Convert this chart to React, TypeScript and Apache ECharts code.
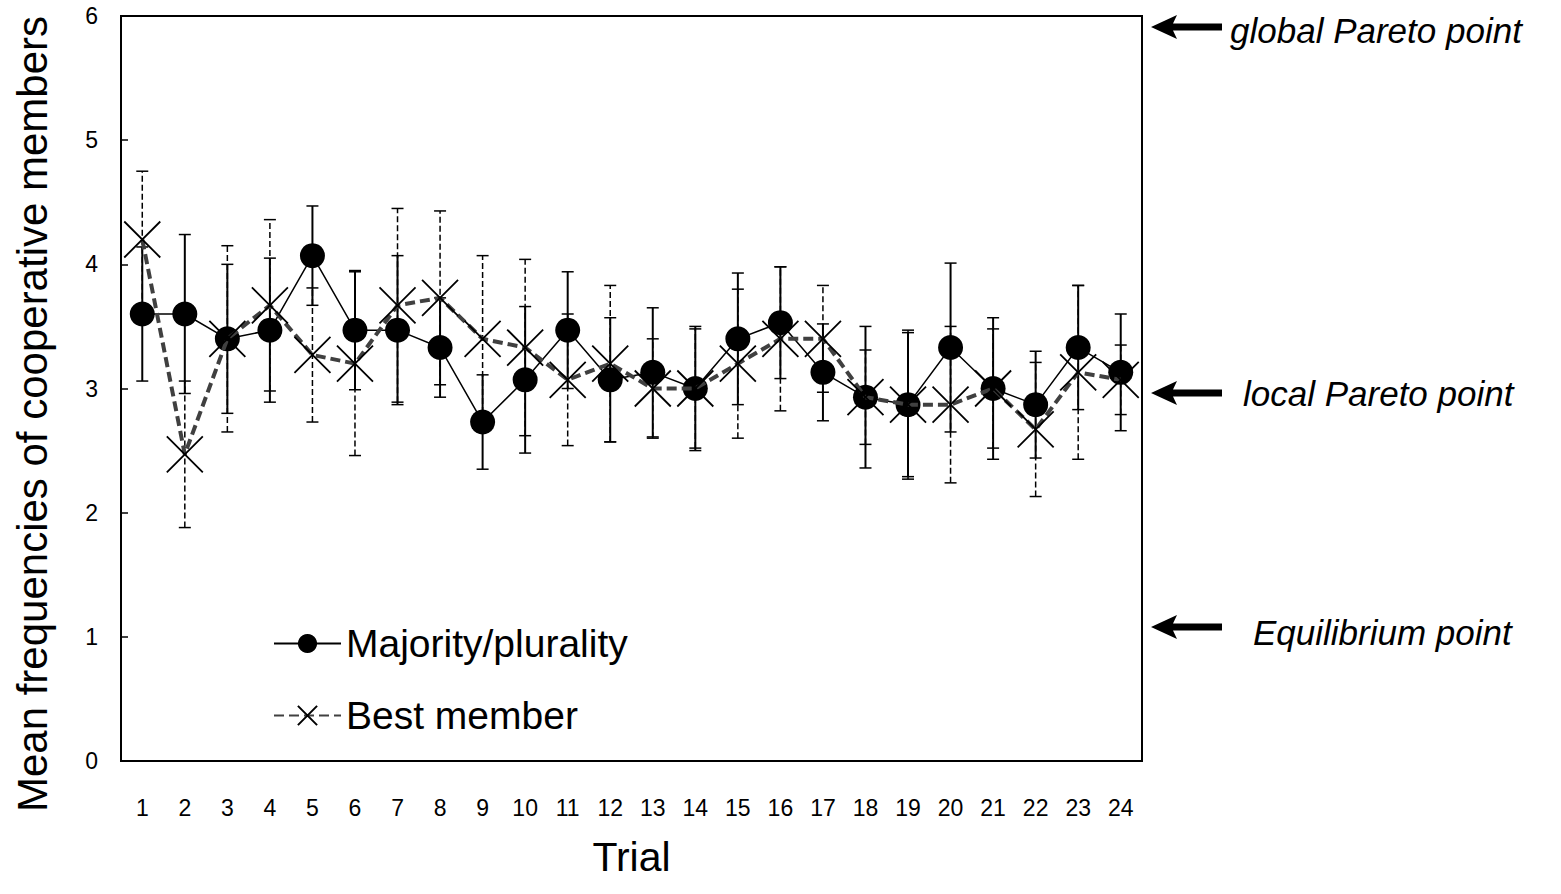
import React, { useEffect, useRef } from "react";
import * as echarts from "echarts";

const trials = ["1","2","3","4","5","6","7","8","9","10","11","12","13","14","15","16","17","18","19","20","21","22","23","24"];
const majority = [3.60,3.60,3.40,3.47,4.07,3.47,3.47,3.33,2.73,3.07,3.47,3.07,3.13,3.00,3.40,3.53,3.13,2.93,2.87,3.33,3.00,2.87,3.33,3.13];
const majoritySD = [0.54,0.64,0.60,0.58,0.40,0.48,0.60,0.40,0.38,0.59,0.47,0.50,0.52,0.50,0.53,0.45,0.39,0.57,0.58,0.68,0.57,0.43,0.50,0.47];
const best = [4.20,2.47,3.40,3.67,3.27,3.20,3.67,3.73,3.40,3.33,3.07,3.20,3.00,3.00,3.20,3.40,3.40,2.93,2.87,2.87,3.00,2.67,3.13,3.07];
const bestSD = [0.55,0.59,0.75,0.69,0.54,0.74,0.78,0.70,0.67,0.71,0.53,0.63,0.40,0.48,0.60,0.58,0.43,0.38,0.60,0.63,0.48,0.54,0.70,0.28];
const yTicks = [0, 1, 2, 3, 4, 5, 6];
const annotations = [
  { text: "global Pareto point", arrowY: 27, textX: 1230, textY: 30 },
  { text: "local Pareto point", arrowY: 393, textX: 1243, textY: 393 },
  { text: "Equilibrium point", arrowY: 627, textX: 1253, textY: 632 },
];

const FONT = "'Liberation Sans', Arial, Helvetica, sans-serif";

function errorBarSeries(name: string, means: number[], sds: number[], dashed: boolean) {
  const data = means.map((m, i) => [i, m - sds[i], m + sds[i]]);
  return {
    type: "custom",
    name: name + " SD",
    z: 1,
    silent: true,
    legendHoverLink: false,
    data,
    encode: { x: 0, y: [1, 2] },
    renderItem: (params: any, api: any) => {
      const idx = api.value(0);
      const lo = api.coord([idx, api.value(1)]);
      const hi = api.coord([idx, api.value(2)]);
      const x = lo[0];
      const hw = 6;
      const style = {
        stroke: "#000",
        lineWidth: dashed ? 1.5 : 2,
        lineDash: dashed ? [6, 3] : null,
        fill: "none",
      };
      return {
        type: "group",
        children: [
          { type: "line", shape: { x1: x, y1: lo[1], x2: x, y2: hi[1] }, style },
          { type: "line", shape: { x1: x - hw, y1: lo[1], x2: x + hw, y2: lo[1] }, style: { ...style, lineDash: null, lineWidth: 1.5 } },
          { type: "line", shape: { x1: x - hw, y1: hi[1], x2: x + hw, y2: hi[1] }, style: { ...style, lineDash: null, lineWidth: 1.5 } },
        ],
      };
    },
  };
}

function arrow(y: number) {
  return {
    type: "polygon",
    shape: {
      points: [
        [1151, y],
        [1177, y - 12],
        [1173, y - 3.5],
        [1222, y - 3.5],
        [1222, y + 3.5],
        [1173, y + 3.5],
        [1177, y + 12],
      ],
    },
    style: { fill: "#000" },
  };
}

export default function App() {
  const ref = useRef<HTMLDivElement>(null);
  useEffect(() => {
    if (!ref.current) return;
    const chart = echarts.init(ref.current, null, { renderer: "svg" });
    const graphics: any[] = [
      {
        type: "text",
        x: 32,
        y: 414,
        rotation: Math.PI / 2,
        style: {
          text: "Mean frequencies of cooperative members",
          font: `42px ${FONT}`,
          fill: "#000",
          align: "center",
          verticalAlign: "middle",
        },
      },
    ];
    annotations.forEach((a) => {
      graphics.push(arrow(a.arrowY));
      graphics.push({
        type: "text",
        x: a.textX,
        y: a.textY,
        style: {
          text: a.text,
          font: `italic 35px ${FONT}`,
          fill: "#000",
          align: "left",
          verticalAlign: "middle",
        },
      });
    });
    chart.setOption({
      animation: false,
      backgroundColor: "#fff",
      grid: {
        left: 121,
        top: 16,
        right: 419,
        bottom: 133,
        show: true,
        borderColor: "#000",
        borderWidth: 2,
        backgroundColor: "transparent",
      },
      legend: {
        orient: "vertical",
        left: 268,
        top: 619,
        itemWidth: 67,
        itemHeight: 24,
        itemGap: 33,
        data: ["Majority/plurality", "Best member"],
        textStyle: { fontFamily: FONT, fontSize: 39, color: "#000" },
        selectedMode: false,
      },
      xAxis: {
        type: "category",
        data: trials,
        boundaryGap: true,
        name: "Trial",
        nameLocation: "middle",
        nameGap: 75,
        nameTextStyle: { fontFamily: FONT, fontSize: 41, color: "#000" },
        axisLine: { lineStyle: { color: "#000", width: 2 } },
        axisTick: { inside: true, length: 11, lineStyle: { color: "#000", width: 1.5 } },
        axisLabel: { fontFamily: FONT, fontSize: 23, color: "#000", margin: 35, interval: 0 },
        splitLine: { show: false },
      },
      yAxis: {
        type: "value",
        min: yTicks[0],
        max: yTicks[yTicks.length - 1],
        interval: 1,
        axisLine: { show: true, lineStyle: { color: "#000", width: 2 } },
        axisTick: { show: true, inside: true, length: 7, lineStyle: { color: "#000", width: 1.5 } },
        axisLabel: { fontFamily: FONT, fontSize: 23, color: "#000", margin: 23 },
        splitLine: { show: false },
      },
      series: [
        errorBarSeries("Majority/plurality", majority, majoritySD, false),
        errorBarSeries("Best member", best, bestSD, true),
        {
          type: "line",
          name: "Majority/plurality",
          data: majority,
          z: 3,
          symbol: "circle",
          symbolSize: 25,
          itemStyle: { color: "#000" },
          lineStyle: { color: "#000", width: 1.5 },
        },
        {
          type: "line",
          name: "Best member",
          data: best,
          z: 4,
          symbol: "path://M0,0L10,10M10,0L0,10",
          symbolSize: 36,
          itemStyle: { color: "transparent", borderColor: "#000", borderWidth: 1.8 },
          lineStyle: { color: "#404040", width: 4, type: [10, 5] },
        },
      ],
      graphic: graphics,
    });
    return () => chart.dispose();
  }, []);
  return (
    <div
      ref={ref}
      style={{ position: "fixed", left: 0, top: 0, width: 1561, height: 894, background: "#fff" }}
    />
  );
}
